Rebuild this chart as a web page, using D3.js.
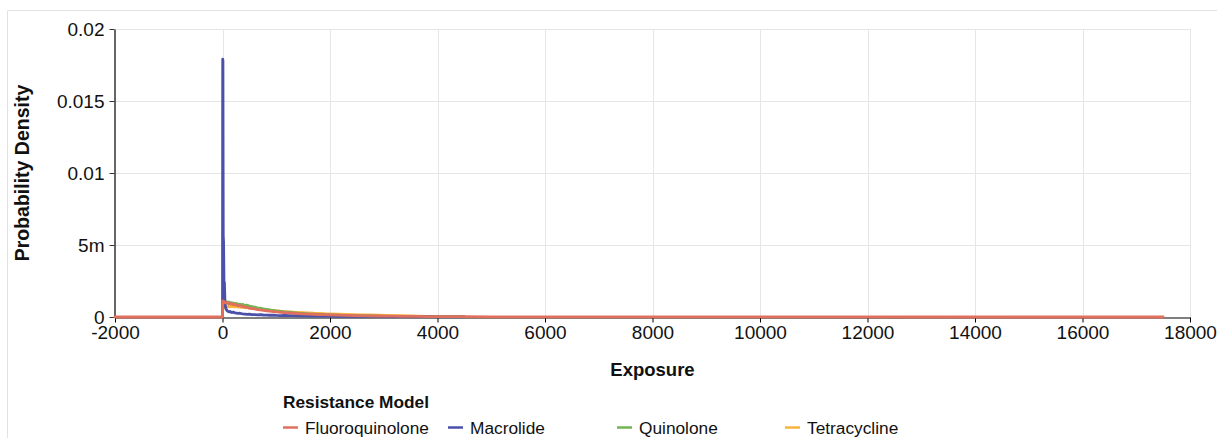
<!DOCTYPE html>
<html>
<head>
<meta charset="utf-8">
<script src="https://cdn.jsdelivr.net/npm/d3@7"></script>
<style>
  html, body { margin: 0; padding: 0; background: #fff; }
  svg { display: block; font-family: "Liberation Sans", Arial, sans-serif; }
</style>
</head>
<body>
<svg id="chart" width="1217" height="438"></svg>
<script>
// Exposure grid shared by all density series
const exposure = [
  -2000, 0, 4, 8, 14, 20, 28, 36,
  45, 55, 70, 85, 100, 120, 140, 160,
  180, 200, 230, 260, 290, 320, 350, 380,
  420, 460, 500, 550, 600, 650, 700, 760,
  820, 880, 940, 1000, 1080, 1160, 1240, 1320,
  1400, 1500, 1600, 1700, 1800, 1900, 2000, 2150,
  2300, 2450, 2600, 2750, 2900, 3050, 3200, 3350,
  3500, 3650, 3800, 4000, 4500, 5000, 6000, 17500
];

const fluoroquinolone = [
  0, 0, 0.00112, 0.00108, 0.00110, 0.00104, 0.00107, 0.00101,
  0.00104, 0.00098, 0.00101, 0.00095, 0.00097, 0.00092, 0.00094, 0.00089,
  0.00091, 0.00086, 0.00088, 0.00082, 0.00079, 0.00081, 0.00075, 0.00072,
  0.00069, 0.00066, 0.00062, 0.00059, 0.00056, 0.00052, 0.00049, 0.00046,
  0.00043, 0.00041, 0.00038, 0.00035, 0.00033, 0.00030, 0.00028, 0.00026,
  0.00024, 0.00022, 0.00020, 0.00019, 0.00017, 0.00016, 0.00015, 0.00013,
  0.00011, 0.00010, 0.00009, 0.00008, 0.00007, 0.00006, 0.00006, 0.00005,
  0.00004, 0.00004, 0.00003, 0.00003, 0.00002, 0.00001, 0.000005, 0
];

const macrolide = [
  null, 0, 0.0179, 0.0178, 0.0056, 0.0052, 0.0022, 0.0024,
  0.0011, 0.0007, 0.00052, 0.00044, 0.00040, 0.00036, 0.00038, 0.00033,
  0.00031, 0.00034, 0.00029, 0.00027, 0.00025, 0.00026, 0.00023, 0.00021,
  0.00020, 0.00018, 0.00019, 0.00017, 0.00016, 0.00015, 0.00016, 0.00014,
  0.00013, 0.00012, 0.00013, 0.00011, 0.00010, 0.00011, 0.00009, 0.00010,
  0.00008, 0.00009, 0.00007, 0.00008, 0.00006, 0.00007, 0.00006, 0.00005,
  0.00006, 0.00004, 0.00005, 0.00004, 0.00003, 0.00004, 0.00003, 0.00003,
  0.00002, 0.00003, 0.00002, 0.00001, 0, null, null, null
];

const quinolone = [
  null, 0, 0.00098, 0.00105, 0.00100, 0.00108, 0.00103, 0.00110,
  0.00106, 0.00101, 0.00107, 0.00103, 0.00099, 0.00104, 0.00097, 0.00100,
  0.00095, 0.00098, 0.00091, 0.00094, 0.00088, 0.00090, 0.00085, 0.00087,
  0.00080, 0.00082, 0.00076, 0.00072, 0.00069, 0.00064, 0.00061, 0.00056,
  0.00053, 0.00049, 0.00046, 0.00042, 0.00039, 0.00035, 0.00033, 0.00030,
  0.00027, 0.00025, 0.00022, 0.00020, 0.00018, 0.00016, 0.00014, 0.00012,
  0.00010, 0.00009, 0.00008, 0.00007, 0.00006, 0.00005, 0.00004, 0.00004,
  0.00003, 0.00002, 0.00002, 0.00001, 0, null, null, null
];

const tetracycline = [
  null, 0, 0.00062, 0.00066, 0.00060, 0.00068, 0.00064, 0.00070,
  0.00066, 0.00072, 0.00068, 0.00074, 0.00070, 0.00075, 0.00071, 0.00076,
  0.00072, 0.00074, 0.00070, 0.00073, 0.00068, 0.00071, 0.00066, 0.00069,
  0.00064, 0.00066, 0.00061, 0.00063, 0.00058, 0.00060, 0.00055, 0.00052,
  0.00050, 0.00047, 0.00045, 0.00043, 0.00040, 0.00038, 0.00036, 0.00034,
  0.00032, 0.00030, 0.00028, 0.00026, 0.00025, 0.00023, 0.00022, 0.00020,
  0.00018, 0.00017, 0.00015, 0.00014, 0.00012, 0.00011, 0.00010, 0.00009,
  0.00008, 0.00006, 0.00005, 0.00003, 0, null, null, null
];

const seriesNames = ["Fluoroquinolone", "Macrolide", "Quinolone", "Tetracycline"];
const seriesValues = [fluoroquinolone, macrolide, quinolone, tetracycline];
const seriesColors = ["#e0705d", "#4b50a8", "#73b352", "#f8b53e"];
// later entries are painted on top
const drawOrder = [3, 2, 1, 0];

const xTicks = [-2000, 0, 2000, 4000, 6000, 8000, 10000, 12000, 14000, 16000, 18000];
const yTicks = [0, 0.005, 0.01, 0.015, 0.02];
const yTickLabels = ["0", "5m", "0.01", "0.015", "0.02"];

const svg = d3.select("#chart");
const W = 1217, H = 438;
const m = { left: 115, right: 1190, top: 29, bottom: 317 };

// outer frame
svg.append("path")
  .attr("d", `M7.5,${H} V10.5 H${W}`)
  .attr("fill", "none").attr("stroke", "#e2e2e2").attr("stroke-width", 1);

const x = d3.scaleLinear().domain([-2000, 18000]).range([m.left, m.right]);
const y = d3.scaleLinear().domain([0, 0.02]).range([m.bottom, m.top]);

// grid
const grid = svg.append("g").attr("stroke", "#e6e6e6").attr("stroke-width", 1);
xTicks.slice(1).forEach(t => {
  grid.append("line")
    .attr("x1", Math.round(x(t)) + 0.5).attr("x2", Math.round(x(t)) + 0.5)
    .attr("y1", m.top).attr("y2", m.bottom);
});
yTicks.slice(1).forEach(t => {
  grid.append("line")
    .attr("x1", m.left).attr("x2", m.right)
    .attr("y1", Math.round(y(t)) + 0.5).attr("y2", Math.round(y(t)) + 0.5);
});

// x axis
const xAxis = svg.append("g")
  .attr("transform", `translate(0,${m.bottom + 0.5})`)
  .call(d3.axisBottom(x).tickValues(xTicks).tickSize(5).tickSizeOuter(0).tickFormat(d => String(d)));
xAxis.select(".domain").attr("stroke", "#000").attr("stroke-width", 1.2);
xAxis.selectAll(".tick line").attr("stroke", "#000");
xAxis.selectAll(".tick text")
  .attr("font-size", 19).attr("fill", "#111")
  .attr("font-family", "Liberation Sans, Arial, sans-serif")
  .attr("dy", "0.62em").attr("y", 10);

// y axis
const yAxis = svg.append("g")
  .attr("transform", `translate(${m.left - 0.5},0)`)
  .call(d3.axisLeft(y).tickValues(yTicks).tickSize(5).tickSizeOuter(0)
    .tickFormat((d, i) => yTickLabels[i]));
yAxis.select(".domain").attr("stroke", "#333").attr("stroke-width", 1.5);
yAxis.selectAll(".tick line").attr("stroke", "#333");
yAxis.selectAll(".tick text")
  .attr("font-size", 19).attr("fill", "#111")
  .attr("font-family", "Liberation Sans, Arial, sans-serif")
  .attr("x", -10);

// density curves
const line = d3.line()
  .defined(d => d[1] !== null)
  .x(d => x(d[0]))
  .y(d => y(d[1]));

const plot = svg.append("g");
drawOrder.forEach(i => {
  const pts = exposure.map((e, k) => [e, seriesValues[i][k]]);
  plot.append("path")
    .datum(pts)
    .attr("d", line)
    .attr("fill", "none")
    .attr("stroke", seriesColors[i])
    .attr("stroke-width", 2.8)
    .attr("stroke-linejoin", "round")
    .attr("stroke-linecap", "round");
});

// axis titles
svg.append("text")
  .attr("x", (m.left + m.right) / 2).attr("y", 376)
  .attr("text-anchor", "middle")
  .attr("font-size", 18.5).attr("font-weight", "bold").attr("fill", "#111")
  .text("Exposure");

svg.append("text")
  .attr("transform", `translate(29,${(m.top + m.bottom) / 2}) rotate(-90)`)
  .attr("text-anchor", "middle")
  .attr("font-size", 19.5).attr("font-weight", "bold").attr("fill", "#111")
  .text("Probability Density");

// legend
const legend = svg.append("g").attr("transform", "translate(283,0)");
legend.append("text")
  .attr("x", 0).attr("y", 408)
  .attr("font-size", 17.3).attr("font-weight", "bold").attr("fill", "#111")
  .text("Resistance Model");

const legendX = [0, 165, 334, 502];
seriesNames.forEach((name, i) => {
  const g = legend.append("g").attr("transform", `translate(${legendX[i]},0)`);
  g.append("line")
    .attr("x1", 0).attr("x2", 15).attr("y1", 427.5).attr("y2", 427.5)
    .attr("stroke", seriesColors[i]).attr("stroke-width", 2.5);
  g.append("text")
    .attr("x", 22).attr("y", 433.5)
    .attr("font-size", 17.3).attr("fill", "#111")
    .text(name);
});
</script>
</body>
</html>
